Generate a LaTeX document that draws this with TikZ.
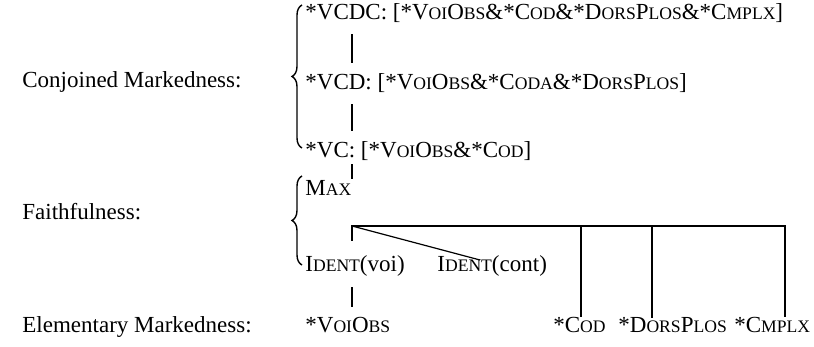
\documentclass[tikz,border=0pt]{standalone}
\usepackage{fontspec}
\setmainfont{Liberation Serif}
\usetikzlibrary{decorations.pathreplacing}
\newcommand{\fsc}[1]{{\fontsize{8.8}{10}\selectfont\MakeUppercase{#1}}}

\begin{document}
\begin{tikzpicture}[x=0.5pt, y=-0.5pt, font=\fontsize{11.5}{13}\selectfont,
  txt/.style={anchor=base west, inner sep=0pt},
  bar/.style={line width=0.6pt, shorten <=5.5pt, shorten >=5.5pt},
  lnk/.style={line width=0.6pt},
  brc/.style={line width=0.7pt, decorate, decoration={brace, amplitude=5pt}}]
  \useasboundingbox (0,0) rectangle (814,347);

  % left column
  \node[txt] (conj) at (22, 88) {Conjoined Markedness:};
  \node[txt] (faith) at (22, 220) {Faithfulness:};
  \node[txt] (elem) at (22, 333) {Elementary Markedness:};

  % conjoined constraints
  \node[txt] (vcdc) at (305, 20) {*VCDC: [*V\fsc{oi}O\fsc{bs}\&*C\fsc{od}\&*D\fsc{ors}P\fsc{los}\&*C\fsc{mplx}]};
  \node[txt] (vcd) at (305, 90) {*VCD: [*V\fsc{oi}O\fsc{bs}\&*C\fsc{oda}\&*D\fsc{ors}P\fsc{los}]};
  \node[txt] (vc) at (305, 158) {*VC: [*V\fsc{oi}O\fsc{bs}\&*C\fsc{od}]};

  % faithfulness
  \node[txt] (max) at (305, 196) {M\fsc{ax}};
  \node[txt] (identvoi) at (305, 272) {I\fsc{dent}(voi)};
  \node[txt] (identcont) at (437, 272) {I\fsc{dent}(cont)};

  % elementary markedness
  \node[txt] (voiobs) at (305, 333) {*V\fsc{oi}O\fsc{bs}};
  \node[txt] (cod) at (553, 333) {*C\fsc{od}};
  \node[txt] (dors) at (618, 333) {*D\fsc{ors}P\fsc{los}};
  \node[txt] (cmplx) at (734, 333) {*C\fsc{mplx}};

  \coordinate (spine) at (352, 0);
  \coordinate (hub) at (352, 226);
  \coordinate (hend) at (785, 226);
  \coordinate (dcod) at (581, 226);
  \coordinate (ddors) at (652, 226);
  \coordinate (tcont) at (480, 260);

  \draw[bar] (vcdc.south -| spine) -- (vcd.north -| spine);
  \draw[bar] (vcd.south -| spine) -- (vc.north -| spine);
  \draw[bar, shorten <=1.5pt, shorten >=1pt] (vc.south -| spine) -- (max.north -| spine);
  \draw[lnk] (identvoi.north -| hub) ++(0,-15) -- (hub) -- (hend) -- (hend |- cmplx.north);
  \draw[lnk] (hub) -- (tcont);
  \draw[lnk] (dcod) -- (dcod |- cod.north);
  \draw[lnk] (ddors) -- (ddors |- dors.north);
  \draw[bar, shorten <=5pt, shorten >=5pt] (identvoi.south -| spine) -- (voiobs.north -| spine);

  % braces
  \draw[brc] (302, 148) -- (302, 5);
  \draw[brc] (302, 265) -- (302, 176);
\end{tikzpicture}
\end{document}
